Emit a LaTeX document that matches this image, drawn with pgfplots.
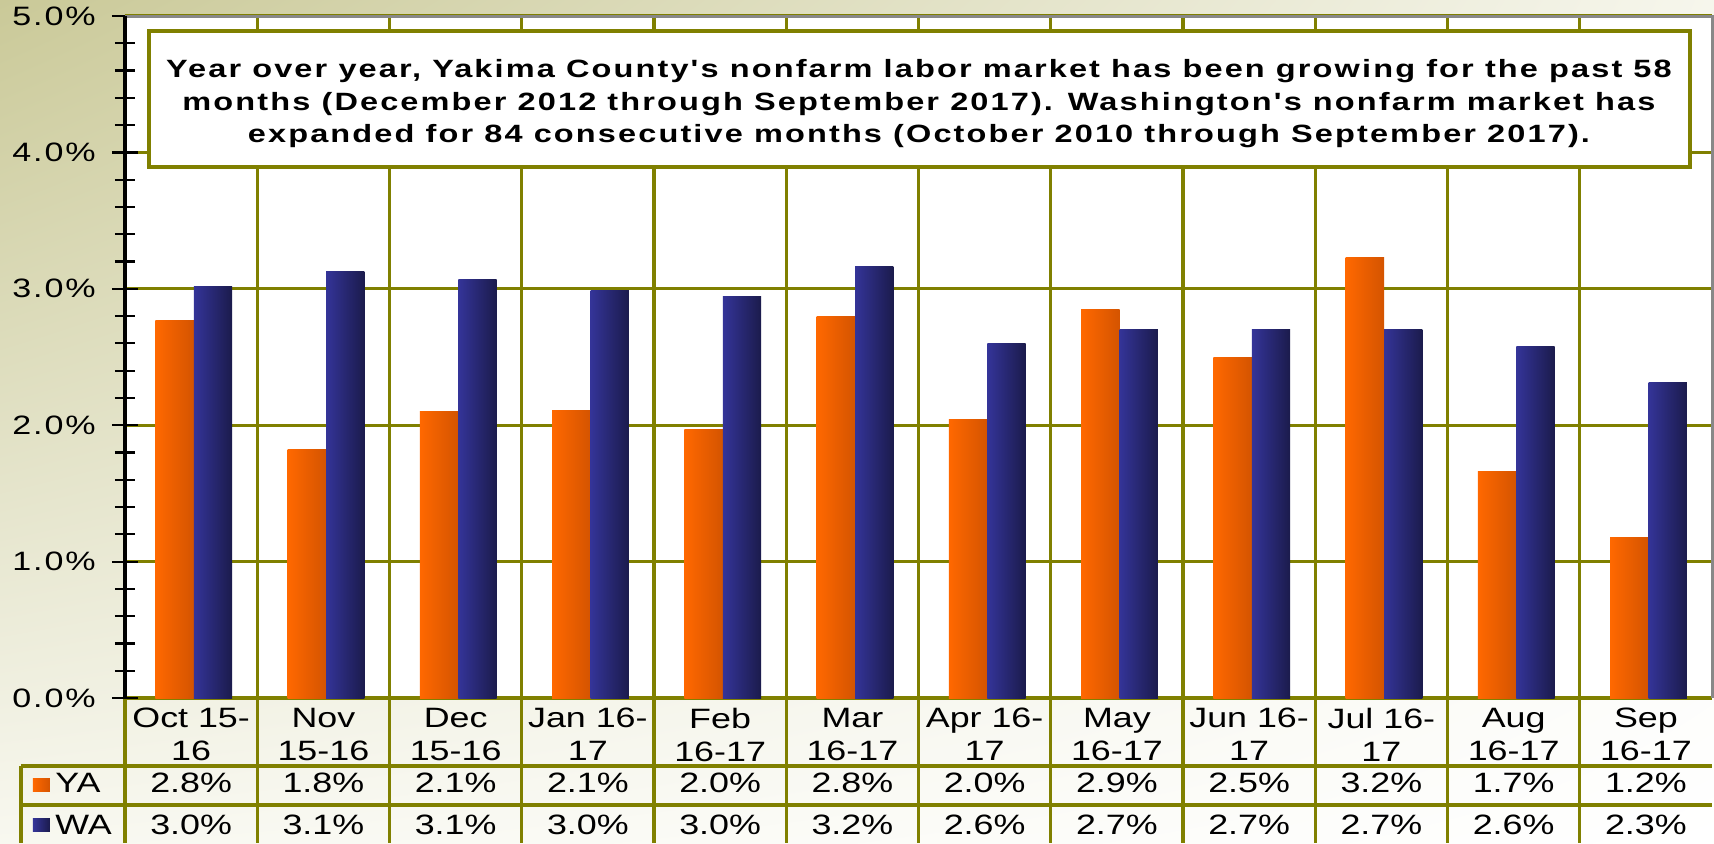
\documentclass[border=0pt]{standalone}
\usepackage{pgfplots}
\pgfplotsset{compat=1.18}
\usepackage{pgfplotstable}
\usetikzlibrary{shadings}
\usepackage{fontspec}
\setmainfont{Liberation Sans}[FakeStretch=1.28]
\newfontfamily\catfont{Liberation Sans}[FakeStretch=1.28]
\newfontfamily\tickfont{Liberation Sans}[FakeStretch=1.28,LetterSpace=7]
\newfontfamily\annfont{Liberation Sans}[FakeStretch=1.3,LetterSpace=8.5]
\definecolor{olivegrid}{RGB}{128,128,0}
\definecolor{orA}{RGB}{255,104,0}
\definecolor{orB}{RGB}{212,84,0}
\definecolor{nvA}{RGB}{52,52,152}
\definecolor{nvB}{RGB}{27,27,76}
\definecolor{bgA}{RGB}{202,201,152}
\definecolor{bgB}{RGB}{246,246,236}
\definecolor{bgC}{RGB}{248,248,240}
\definecolor{bordergray}{RGB}{136,136,136}

\pgfplotstableread{
x ya wa
0 2.77 3.02
1 1.82 3.13
2 2.10 3.07
3 2.11 2.99
4 1.97 2.94
5 2.80 3.16
6 2.04 2.60
7 2.85 2.70
8 2.50 2.70
9 3.23 2.70
10 1.66 2.58
11 1.18 2.31
}\datatable

\begin{document}
\begin{tikzpicture}
\useasboundingbox (-62.5pt,-72.5pt) rectangle (794.5pt,349pt);
\shade[upper left=bgA, upper right=bgB, lower left=bgC, lower right=white]
  (-62.5pt,-72.5pt) rectangle (794.5pt,349pt);
\fill[white] (0,0) rectangle (793.5pt,341pt);
% category separators (plot area and table)
\foreach \i in {1,...,11}
  \draw[olivegrid, line width=1.6pt] (\i*66.125pt,341pt) -- (\i*66.125pt,-72.5pt);
\draw[olivegrid, line width=1.6pt] (0,0) -- (0,-72.5pt);
% table rows
\draw[olivegrid, line width=1.6pt] (-52pt,-34pt) -- (793.5pt,-34pt);
\draw[olivegrid, line width=1.6pt] (-52pt,-53.5pt) -- (793.5pt,-53.5pt);
\draw[olivegrid, line width=1.6pt] (-52pt,-34pt) -- (-52pt,-72.5pt);

\begin{axis}[
  at={(0,0)}, anchor=south west,
  scale only axis, width=793.5pt, height=341pt,
  xmin=-0.5, xmax=11.5, ymin=0, ymax=5,
  clip=false,
  axis line style={draw=none},
  ymajorgrids, grid style={olivegrid, line width=1.6pt},
  ytick={0,1,2,3,4,5},
  yticklabels={},
  yticklabel style={opacity=0},
  ytick pos=left,
  minor y tick num=4,
  tick align=center,
  major tick length=13pt, minor tick length=10pt,
  tick style={black, line width=1.1pt},
  xtick style={draw=none},
  xtick={0,...,11},
  xticklabels={{Oct 15-\\16},{Nov\\15-16},{Dec\\15-16},{Jan 16-\\17},{Feb\\16-17},{Mar\\16-17},{Apr 16-\\17},{May\\16-17},{Jun 16-\\17},{Jul 16-\\17},{Aug\\16-17},{Sep\\16-17}},
  xticklabel style={align=center, font=\catfont\fontsize{14}{16.3}\selectfont,
     execute at begin node={\normalbaselineskip=16.3pt\baselineskip=16.3pt},
     anchor=north, inner sep=0pt, yshift=1.5pt},
]
\pgfplotsinvokeforeach{0,...,11}{
  \addplot[ybar, bar width=0.29, bar shift=-0.125, draw=none, left color=orA, right color=orB,
    restrict expr to domain={\coordindex}{#1:#1}] table[x=x,y=ya]{\datatable};
  \addplot[ybar, bar width=0.29, bar shift=0.165, draw=none, left color=nvA, right color=nvB,
    restrict expr to domain={\coordindex}{#1:#1}] table[x=x,y=wa]{\datatable};
}
\end{axis}

% y tick labels
\foreach \v [count=\i from 0] in {0.0,1.0,2.0,3.0,4.0,5.0}
  \node[anchor=east, inner sep=0pt, font=\tickfont\fontsize{13.3}{15}\selectfont] at (-14.5pt,\i*68.2pt) {\v\%};

% borders
\draw[bordergray, line width=1.5pt] (0,341pt) -- (793.5pt,341pt) -- (793.5pt,0);
\draw[black, line width=1.7pt] (0,0) -- (0,341pt);

% data table
\fill[left color=orA, right color=orB] (-46pt,-46.5pt) rectangle (-37.5pt,-40pt);
\fill[left color=nvA, right color=nvB] (-46pt,-66.5pt) rectangle (-37.5pt,-60pt);
\node[anchor=west, inner sep=0pt, font=\catfont\fontsize{14}{16}\selectfont] at (-35pt,-42.5pt) {YA};
\node[anchor=west, inner sep=0pt, font=\catfont\fontsize{14}{16}\selectfont] at (-35pt,-63.5pt) {WA};
\foreach \v [count=\i from 0] in {2.8,1.8,2.1,2.1,2.0,2.8,2.0,2.9,2.5,3.2,1.7,1.2}
  \node[inner sep=0pt, font=\catfont\fontsize{14}{16}\selectfont] at (\i*66.125pt+33.06pt,-42.5pt) {\v\%};
\foreach \v [count=\i from 0] in {3.0,3.1,3.1,3.0,3.0,3.2,2.6,2.7,2.7,2.7,2.6,2.3}
  \node[inner sep=0pt, font=\catfont\fontsize{14}{16}\selectfont] at (\i*66.125pt+33.06pt,-63.5pt) {\v\%};

% annotation
\draw[olivegrid, line width=1.6pt, fill=white] (12pt,265.5pt) rectangle (782.5pt,333.5pt);
\node[align=center, font=\annfont\bfseries\fontsize{12.5}{16.25}\selectfont, inner sep=0pt,
  execute at begin node={\normalbaselineskip=16.25pt\baselineskip=16.25pt}] at (397pt,297pt)
  {Year over year, Yakima County's nonfarm labor market has been growing for the past 58\\
   months (December 2012 through September 2017). Washington's nonfarm market has\\
   expanded for 84 consecutive months (October 2010 through September 2017).};
\end{tikzpicture}
\end{document}
